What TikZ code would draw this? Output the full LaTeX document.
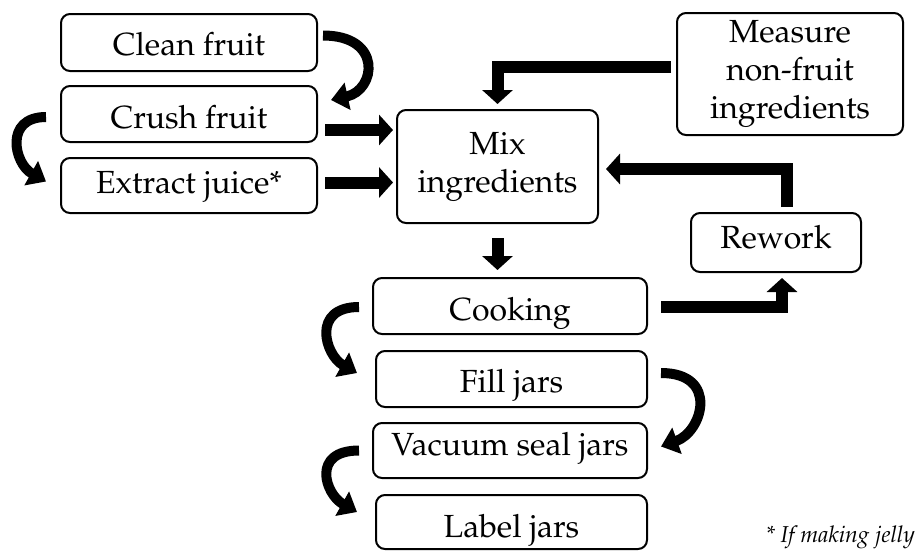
\documentclass[tikz,border=0pt]{standalone}
\usepackage[T1]{fontenc}
\usepackage{mathpazo}
\usetikzlibrary{arrows.meta,calc}
\tikzset{
 box/.style={draw, line width=2pt, rounded corners=9pt, align=center, inner sep=0pt, font=\fontsize{32}{38}\selectfont},
 bl/.style={text depth=0pt, text height=#1},
 bigarrow/.style={line width=12pt, -{Triangle[width=30pt,length=14pt]}},
 curvearrow/.style={line width=10pt, -{Triangle[width=27pt,length=17pt]}},
}
\begin{document}
\begin{tikzpicture}[x=1pt,y=-1pt]
\useasboundingbox (0,0) rectangle (918,550);
\node[box, bl=25pt, minimum width=256pt, minimum height=57pt] (clean) at (189,42.5) {Clean fruit};
\node[box, bl=28pt, minimum width=256pt, minimum height=56pt] (crush) at (189,114) {Crush fruit};
\node[box, bl=15pt, minimum width=256pt, minimum height=55pt] (extract) at (189,185.5) {Extract juice*};
\node[box, minimum width=201pt, minimum height=113pt] (mix) at (497.5,166.5) {Mix\\ingredients};
\node[box, minimum width=226pt, minimum height=122pt] (measure) at (790,74) {Measure\\non-fruit\\ingredients};
\node[box, bl=11pt, minimum width=170pt, minimum height=59pt] (rework) at (776,242.5) {Rework};
\node[box, bl=28pt, minimum width=274pt, minimum height=56pt] (cooking) at (510,306) {Cooking};
\node[box, bl=26pt, minimum width=271pt, minimum height=56pt] (fill) at (511.5,379) {Fill jars};
\node[box, bl=9pt, minimum width=274pt, minimum height=55pt] (vacuum) at (510,450.5) {Vacuum seal jars};
\node[box, bl=30pt, minimum width=271pt, minimum height=54pt] (label) at (511.5,522) {Label jars};
\node[font=\fontsize{23}{26}\selectfont\itshape, anchor=base east, inner sep=0pt] (note) at (915,542) {* If making jelly};

% straight arrows
\draw[bigarrow] ([shift={(7,16)}]crush.east) coordinate (a1) -- ([xshift=-3pt]mix.west |- a1);
\draw[bigarrow] ([shift={(7,-3)}]extract.east) coordinate (a2) -- ([xshift=-3pt]mix.west |- a2);
\draw[bigarrow] ([shift={(-5,-7)}]measure.west) -| ([yshift=5pt]mix.north);
\draw[bigarrow] ([shift={(11,-5)}]rework.north) |- ([shift={(7,2.5)}]mix.east);
\draw[bigarrow] ([yshift=-14pt]mix.south) -- ([yshift=7pt]cooking.north -| mix.south);
\draw[bigarrow] ([shift={(13,1)}]cooking.east) -| ([shift={(6,5)}]rework.south);

% curved arrows
\draw[curvearrow] ([shift={(5,-7)}]clean.east) .. controls +(60,0) and +(45,-10) .. ([shift={(13,-14)}]crush.east);
\draw[curvearrow] ([shift={(-14,3)}]crush.west) .. controls +(-42,0) and +(-32,-18) .. ([shift={(-14,-4)}]extract.west);
\draw[curvearrow] ([shift={(-13,1)}]cooking.west) .. controls +(-48,0) and +(-32,-18) .. ([shift={(-18,-6)}]fill.west);
\draw[curvearrow] ([shift={(13,-6)}]fill.east) .. controls +(58,0) and +(42,-15) .. ([shift={(13,-4)}]vacuum.east);
\draw[curvearrow] ([shift={(-13,0)}]vacuum.west) .. controls +(-48,0) and +(-32,-18) .. ([shift={(-18,-10)}]label.west);
\end{tikzpicture}
\end{document}
